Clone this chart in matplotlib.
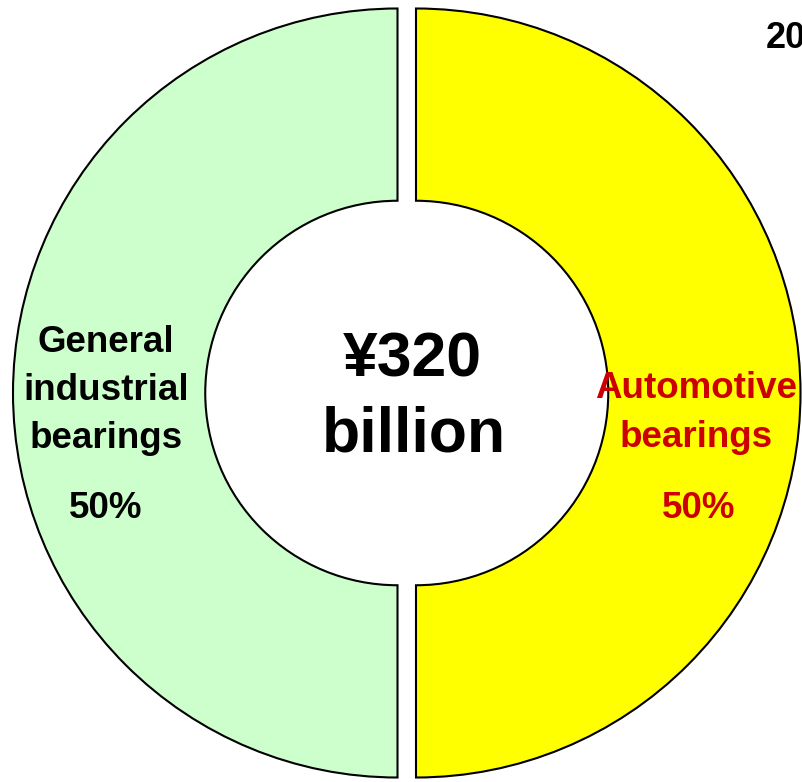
import matplotlib.pyplot as plt

# Data
segments = ["Automotive", "General industrial"]
label_lines = [["Automotive", "bearings"], ["General", "industrial", "bearings"]]
shares = [50, 50]
colors = ["#FFFF00", "#CCFFCC"]
label_colors = ["#CC0000", "#000000"]
total_value = "¥320"
total_unit = "billion"
year_text = "20"

W, H = 803, 782
fig = plt.figure(figsize=(W / 100, H / 100), dpi=100)
ax = fig.add_axes([0, 0, 1, 1])
plt.rcParams["font.family"] = ["Liberation Sans", "DejaVu Sans"]

# pixel coordinates, measured from the top-left of the picture
cx, cy, r = 406.75, 393, 384.5
gap = 9.25

ax.pie(shares, colors=colors, startangle=90, counterclock=False,
       radius=r, center=(cx, H - cy), explode=[gap, gap],
       wedgeprops=dict(width=r * 0.5, edgecolor="black", linewidth=1.5))

ax.set_xlim(0, W)
ax.set_ylim(0, H)
ax.set_aspect("equal")
ax.axis("off")

# segment labels (one text per line, baseline positions)
label_x = [696, 106]
baselines = [[398, 447], [352, 400, 448]]
pct_x = [699, 106]
for lines, x, ys, col, px, val in zip(label_lines, label_x, baselines,
                                      label_colors, pct_x, shares):
    for line, y in zip(lines, ys):
        ax.text(x, H - y, line, ha="center", va="baseline", fontsize=26.5,
                fontweight="bold", color=col)
    ax.text(px, H - 518, f"{val}%", ha="center", va="baseline",
            fontsize=26.5, fontweight="bold", color=col)

# centre total
ax.text(412.5, H - 377, total_value, ha="center", va="baseline",
        fontsize=45, fontweight="bold", color="black")
ax.text(414, H - 452, total_unit, ha="center", va="baseline",
        fontsize=45, fontweight="bold", color="black")

# year heading, cut by the right edge as in the source
ax.text(766, H - 48, year_text, ha="left", va="baseline", fontsize=26,
        fontweight="bold", color="black")

plt.savefig("out.png", dpi=100)
